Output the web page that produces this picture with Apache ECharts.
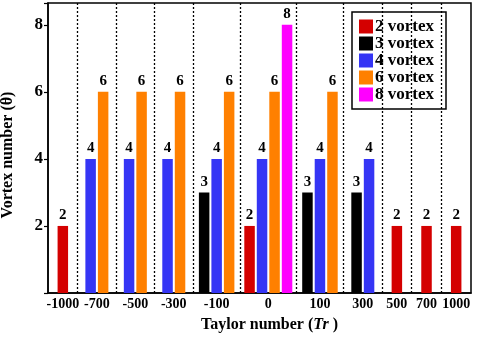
<!DOCTYPE html>
<html>
<head>
<meta charset="utf-8">
<script src="https://cdn.jsdelivr.net/npm/echarts@6/dist/echarts.min.js"></script>
<style>
  html, body { margin: 0; padding: 0; background: #fff; }
  #main { width: 480px; height: 341px; }
</style>
</head>
<body>
<div id="main"></div>
<script>
// Taylor numbers along the x axis
var trLabels = ['-1000', '-700', '-500', '-300', '-100', '0', '100', '300', '500', '700', '1000']
// vortex states found at each Taylor number
var trStates = [[2], [4, 6], [4, 6], [4, 6], [3, 4, 6], [2, 4, 6, 8], [3, 4, 6], [3, 4], [2], [2], [2]]
var vortexNums = [2, 3, 4, 6, 8]
var vortexNames = ['2 vortex', '3 vortex', '4 vortex', '6 vortex', '8 vortex']
var yTicks = [2, 4, 6, 8]

var colors = ['#d40000', '#000000', '#3535f5', '#ff8000', '#ff00ff']
var font = 'Liberation Serif'

// layout of the groups along a hidden value axis (units ~ pixels)
var groupPad = 20.85
var perBar = 8.8
var barPitch = 12.5

var edges = [0]
var centers = []
for (var i = 0; i < trStates.length; i++) {
  var w = groupPad + perBar * trStates[i].length
  centers.push(edges[i] + w / 2)
  edges.push(edges[i] + w)
}
var total = edges[edges.length - 1]

var seriesData = vortexNums.map(function () { return [] })
for (var g = 0; g < trStates.length; g++) {
  var st = trStates[g]
  for (var k = 0; k < st.length; k++) {
    var x = centers[g] + (k - (st.length - 1) / 2) * barPitch
    var si = vortexNums.indexOf(st[k])
    seriesData[si].push([x, st[k]])
  }
}

var dividers = edges.slice(1, edges.length - 1).map(function (v) { return { xAxis: v } })

var series = vortexNames.map(function (name, i) {
  var s = {
    name: name,
    type: 'bar',
    barWidth: 10.5,
    barGap: '-100%',
    itemStyle: { color: colors[i] },
    label: {
      show: true,
      position: 'top',
      distance: 3,
      fontFamily: font,
      fontWeight: 'bold',
      fontSize: 15,
      color: '#000'
    },
    data: seriesData[i]
  }
  if (i === 0) {
    s.markLine = {
      silent: true,
      symbol: 'none',
      label: { show: false },
      lineStyle: { color: '#000', width: 1.3, type: [2, 2] },
      data: dividers
    }
  }
  return s
})

var chart = echarts.init(document.getElementById('main'))
chart.setOption({
  animation: false,
  color: colors,
  grid: {
    left: 48, right: 9, top: 3, bottom: 48,
    outerBoundsMode: 'none',
    show: true, borderColor: '#000', borderWidth: 1.5
  },
  legend: {
    orient: 'vertical',
    left: 352, top: 12,
    data: vortexNames,
    icon: 'rect',
    itemWidth: 14, itemHeight: 14, itemGap: 0,
    padding: [6, 12, 6, 7],
    borderColor: '#000', borderWidth: 1.5,
    textStyle: {
      fontFamily: font, fontWeight: 'bold', fontSize: 17,
      color: '#000', padding: [0, 0, 0, -3]
    }
  },
  xAxis: {
    type: 'value',
    min: 0, max: total,
    splitLine: { show: false },
    axisTick: { show: false },
    axisLine: { lineStyle: { color: '#000', width: 1.5 } },
    axisLabel: {
      customValues: centers,
      margin: 4,
      fontFamily: font, fontWeight: 'bold', fontSize: 14, color: '#000',
      formatter: function (v) {
        for (var i = 0; i < centers.length; i++) {
          if (Math.abs(centers[i] - v) < 0.01) return trLabels[i]
        }
        return ''
      }
    },
    name: '{b|Taylor number (}{i|Tr}{b| )}',
    nameLocation: 'middle',
    nameGap: 24,
    nameTextStyle: {
      padding: [0, 0, 0, 20],
      rich: {
        b: { fontFamily: font, fontWeight: 'bold', fontSize: 16, color: '#000' },
        i: { fontFamily: font, fontWeight: 'bold', fontStyle: 'italic', fontSize: 16, color: '#000' }
      }
    }
  },
  yAxis: {
    type: 'value',
    min: 0, max: 8.65, interval: 2,
    splitLine: { show: false },
    axisLine: { show: true, lineStyle: { color: '#000', width: 1.5 } },
    axisTick: { show: true, length: 4, lineStyle: { color: '#000', width: 1.2 } },
    axisLabel: {
      margin: 5,
      fontFamily: font, fontWeight: 'bold', fontSize: 17, color: '#000',
      formatter: function (v) { return yTicks.indexOf(v) >= 0 ? String(v) : '' }
    },
    name: 'Vortex number (θ)',
    nameLocation: 'middle',
    nameGap: 32,
    nameTextStyle: { fontFamily: font, fontWeight: 'bold', fontSize: 16, color: '#000', padding: [0, 0, 0, -14] }
  },
  series: series
})
</script>
</body>
</html>
